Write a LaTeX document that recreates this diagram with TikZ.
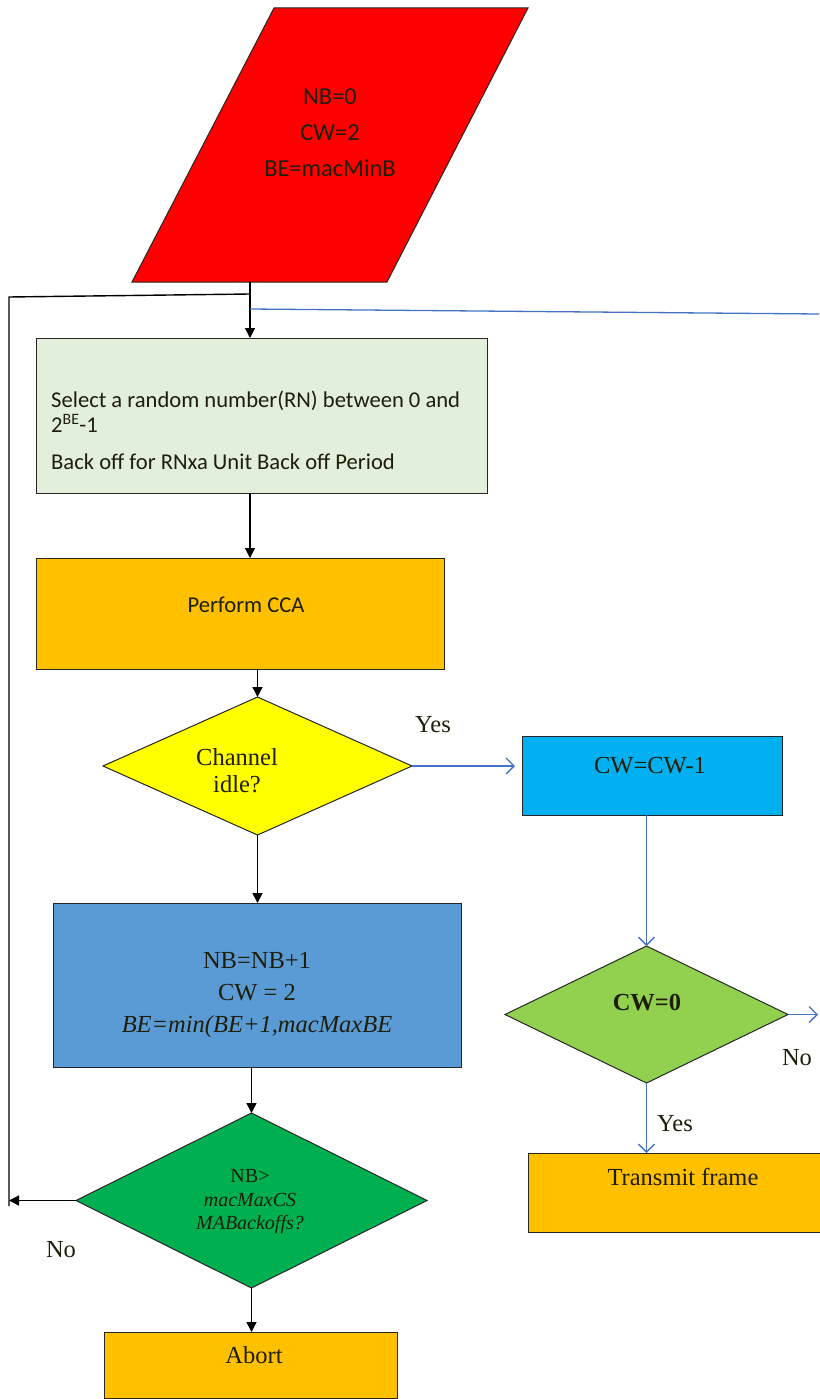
\documentclass[tikz,border=0pt]{standalone}
\usepackage{fontspec}
\setmainfont{Liberation Serif}
\newfontfamily\carlito{Carlito}
\usetikzlibrary{shapes.geometric,arrows.meta}

\definecolor{inkc}{HTML}{1E1E0A}
\definecolor{redfill}{HTML}{FF0000}
\definecolor{palegreen}{HTML}{E2EFDA}
\definecolor{amber}{HTML}{FFC000}
\definecolor{lemon}{HTML}{FFFF00}
\definecolor{skyblue}{HTML}{00B0F0}
\definecolor{midblue}{HTML}{5B9BD5}
\definecolor{lime}{HTML}{92D050}
\definecolor{grass}{HTML}{00B050}
\definecolor{linkblue}{HTML}{4472C4}

\begin{document}
\begin{tikzpicture}[x=1pt,y=-1pt,
  boxshape/.style={draw=black!85, line width=1pt, inner sep=0pt, outer sep=0pt},
  decshape/.style={diamond, draw=black!85, line width=1pt, inner sep=0pt, outer sep=0pt},
  txt/.style={text=inkc, inner sep=0pt, align=center, font=\fontsize{24.5}{32}\selectfont},
  ctxt/.style={text=inkc, inner sep=0pt, font=\carlito\fontsize{22.6}{26}\selectfont},
  wire/.style={draw=black, line width=1.4pt},
  flow/.style={wire, -{Triangle[length=10pt,width=10pt]}},
  bwire/.style={draw=linkblue, line width=1.3pt},
  bflow/.style={bwire, -{Straight Barb[length=8pt,width=16pt,line width=1.3pt]}}
]
\useasboundingbox (0,0) rectangle (819,1399);

% initialisation (parallelogram)
\fill[redfill, draw=black!85, line width=1pt] (274,8) -- (528,8) -- (387,282) -- (132,282) -- cycle;
\node[text=inkc, inner sep=0pt, align=center, font=\carlito\fontsize{24.4}{36}\selectfont] (init) at (330,133) {NB=0\\CW=2\\BE=macMinB};
\coordinate (initbot) at (250,282);
\coordinate (j) at (250,294);
\coordinate (looptop) at (9,297);
\coordinate (loopbot) at (9,1206);
\coordinate (bj) at (250,309);
\coordinate (bend) at (819,314);

% backoff selection
\node[boxshape, fill=palegreen, minimum width=451pt, minimum height=155pt] (select) at (261.5,415.5) {};
\node[ctxt, anchor=base west] (sel1) at (51,407) {Select a random number(RN) between 0 and};
\node[ctxt, anchor=base west] (sel2) at (51,432) {2\textsuperscript{BE}-1};
\node[ctxt, anchor=base west] (sel3) at (51,469) {Back off for RNxa Unit Back off Period};

% CCA
\node[boxshape, fill=amber, minimum width=408pt, minimum height=111pt] (cca) at (240,613.5) {};
\node[ctxt] (ccat) at (246,605) {Perform CCA};

% channel idle decision
\node[decshape, fill=lemon, minimum width=309pt, minimum height=138pt] (chan) at (257.5,766) {};
\node[txt] (chant) at (237,771) {Channel\\[-5pt]idle?};
\node[txt] (yes1) at (433,725) {Yes};

% CW decrement
\node[boxshape, fill=skyblue, minimum width=260pt, minimum height=79pt] (cwdec) at (652,775.5) {};
\node[txt] (cwdect) at (650,766) {CW=CW-1};

% CW = 0 decision
\node[decshape, fill=lime, minimum width=283pt, minimum height=137pt] (cw0) at (646.5,1014.5) {};
\node[txt, font=\bfseries\fontsize{24.5}{32}\selectfont] (cw0t) at (647,1003) {CW=0};
\coordinate (cw0out) at (818,1014.5);
\node[txt] (no1) at (797,1058) {No};
\node[txt] (yes2) at (675,1124) {Yes};

% transmit
\node[boxshape, fill=amber, minimum width=300pt, minimum height=79pt] (tx) at (678,1192.5) {};
\node[txt] (txt1) at (683,1177) {Transmit frame};

% NB update
\node[boxshape, fill=midblue, minimum width=408pt, minimum height=164pt] (nb) at (257,985) {};
\node[txt] (nbt) at (257,995) {NB=NB+1\\CW = 2\\\itshape BE=min(BE+1,macMaxBE};

% NB limit decision
\node[decshape, fill=grass, minimum width=351pt, minimum height=175pt] (nbq) at (251.5,1200.5) {};
\node[txt, font=\fontsize{20}{23.5}\selectfont] (nbqt) at (250,1202) {NB>\\\itshape macMaxCS\\\itshape MABackoffs?};
\coordinate (loopin) at (9,1200.5);
\node[txt] (no2) at (61,1250) {No};

% abort
\node[boxshape, fill=amber, minimum width=293pt, minimum height=66pt] (abort) at (250.5,1365) {};
\node[txt] (abortt) at (254,1355) {Abort};

% connectors
\draw[wire] (initbot) -- (j);
\draw[flow] (j) -- (j |- select.north);
\draw[wire] (j) -- (looptop) -- (loopbot);
\draw[bwire] (bj) -- (bend);
\draw[flow] (j |- select.south) -- (j |- cca.north);
\draw[flow] (chan.north |- cca.south) -- (chan.north);
\draw[bflow, shorten >=7pt] (chan.east) -- (cwdec.west |- chan.east);
\draw[bflow] (cw0.north |- cwdec.south) -- (cw0.north);
\draw[bflow] (cw0.east) -- (cw0out);
\draw[bflow] (cw0.south) -- (cw0.south |- tx.north);
\draw[flow] (chan.south) -- (chan.south |- nb.north);
\draw[flow] (nbq.north |- nb.south) -- (nbq.north);
\draw[flow] (nbq.west) -- (loopin);
\draw[flow] (nbq.south) -- (nbq.south |- abort.north);
\end{tikzpicture}
\end{document}
